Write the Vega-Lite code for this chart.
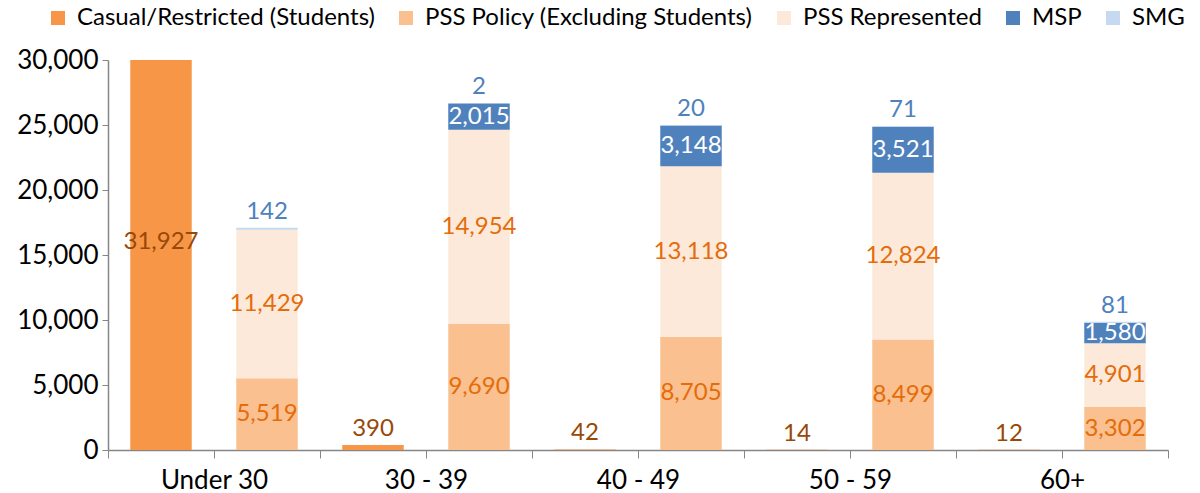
{
  "$schema": "https://vega.github.io/schema/vega-lite/v6.json",
  "width": 1060,
  "height": 390,
  "autosize": {"type": "none"},
  "padding": {"left": 108, "top": 60, "right": 32, "bottom": 43},
  "background": "white",
  "config": {
    "view": {"stroke": null},
    "font": "Lato",
    "axis": {"labelFont": "Lato", "labelFontSize": 26, "labelColor": "#000000", "domainColor": "#868686", "tickColor": "#868686", "grid": false, "title": null},
    "legend": {"labelFont": "Lato", "labelFontSize": 24, "labelColor": "#000000", "labelLimit": 0}
  },
  "data": {
    "values": [
      {"age": "Under 30", "group": "Students", "category": "Casual/Restricted (Students)", "value": 31927},
      {"age": "Under 30", "group": "Staff", "category": "PSS Policy (Excluding Students)", "value": 5519},
      {"age": "Under 30", "group": "Staff", "category": "PSS Represented", "value": 11429},
      {"age": "Under 30", "group": "Staff", "category": "SMG", "value": 142},
      {"age": "30 - 39", "group": "Students", "category": "Casual/Restricted (Students)", "value": 390},
      {"age": "30 - 39", "group": "Staff", "category": "PSS Policy (Excluding Students)", "value": 9690},
      {"age": "30 - 39", "group": "Staff", "category": "PSS Represented", "value": 14954},
      {"age": "30 - 39", "group": "Staff", "category": "MSP", "value": 2015},
      {"age": "30 - 39", "group": "Staff", "category": "SMG", "value": 2},
      {"age": "40 - 49", "group": "Students", "category": "Casual/Restricted (Students)", "value": 42},
      {"age": "40 - 49", "group": "Staff", "category": "PSS Policy (Excluding Students)", "value": 8705},
      {"age": "40 - 49", "group": "Staff", "category": "PSS Represented", "value": 13118},
      {"age": "40 - 49", "group": "Staff", "category": "MSP", "value": 3148},
      {"age": "40 - 49", "group": "Staff", "category": "SMG", "value": 20},
      {"age": "50 - 59", "group": "Students", "category": "Casual/Restricted (Students)", "value": 14},
      {"age": "50 - 59", "group": "Staff", "category": "PSS Policy (Excluding Students)", "value": 8499},
      {"age": "50 - 59", "group": "Staff", "category": "PSS Represented", "value": 12824},
      {"age": "50 - 59", "group": "Staff", "category": "MSP", "value": 3521},
      {"age": "50 - 59", "group": "Staff", "category": "SMG", "value": 71},
      {"age": "60+", "group": "Students", "category": "Casual/Restricted (Students)", "value": 12},
      {"age": "60+", "group": "Staff", "category": "PSS Policy (Excluding Students)", "value": 3302},
      {"age": "60+", "group": "Staff", "category": "PSS Represented", "value": 4901},
      {"age": "60+", "group": "Staff", "category": "MSP", "value": 1580},
      {"age": "60+", "group": "Staff", "category": "SMG", "value": 81}
    ]
  },
  "transform": [
    {"calculate": "indexof(['Casual/Restricted (Students)', 'PSS Policy (Excluding Students)', 'PSS Represented', 'MSP', 'SMG'], datum.category)", "as": "rank"}
  ],
  "encoding": {
    "x": {"field": "age", "type": "nominal", "sort": ["Under 30", "30 - 39", "40 - 49", "50 - 59", "60+"], "scale": {"paddingInner": 0, "paddingOuter": 0}},
    "xOffset": {"field": "group", "type": "nominal", "sort": ["Students", "Staff"], "scale": {"paddingInner": 0.42, "paddingOuter": 0.21}},
    "order": {"field": "rank", "type": "quantitative", "sort": "ascending"}
  },
  "layer": [
    {
      "mark": {"type": "bar", "clip": true},
      "encoding": {
        "x": {"field": "age", "type": "nominal", "sort": ["Under 30", "30 - 39", "40 - 49", "50 - 59", "60+"], "axis": {"orient": "bottom", "labelAngle": 0, "tickBand": "extent", "tickSize": 8, "labelPadding": 9, "domainWidth": 1.5}},
        "y": {"field": "value", "type": "quantitative", "stack": "zero", "scale": {"domain": [0, 30000], "nice": false}, "axis": {"values": [0, 5000, 10000, 15000, 20000, 25000, 30000], "format": ",.0f", "tickSize": 6, "labelPadding": 4, "domainWidth": 1.5}},
        "color": {
          "field": "category", "type": "nominal",
          "sort": ["Casual/Restricted (Students)", "PSS Policy (Excluding Students)", "PSS Represented", "MSP", "SMG"],
          "scale": {"domain": ["Casual/Restricted (Students)", "PSS Policy (Excluding Students)", "PSS Represented", "MSP", "SMG"], "range": ["#F79646", "#FAC090", "#FDE9D9", "#4F81BD", "#C6D9F1"]},
          "legend": {"orient": "none", "legendX": -62, "legendY": -54, "direction": "horizontal", "title": null, "symbolType": "square", "symbolSize": 196, "symbolStrokeWidth": 0, "labelOffset": 7, "columnPadding": 19}
        }
      }
    },
    {
      "mark": {"type": "text", "fontSize": 24, "font": "Lato", "baseline": "middle"},
      "encoding": {
        "x": {"field": "age", "type": "nominal", "sort": ["Under 30", "30 - 39", "40 - 49", "50 - 59", "60+"], "axis": {"orient": "bottom", "labels": false, "domain": false, "tickBand": "center", "tickSize": 8, "ticks": true}},
        "y": {"field": "value", "type": "quantitative", "stack": "zero", "bandPosition": 0.5},
        "text": {"field": "value", "type": "quantitative", "format": ","},
        "color": {
          "field": "category", "type": "nominal",
          "sort": ["Casual/Restricted (Students)", "PSS Policy (Excluding Students)", "PSS Represented", "MSP", "SMG"],
          "scale": {"domain": ["Casual/Restricted (Students)", "PSS Policy (Excluding Students)", "PSS Represented", "MSP", "SMG"], "range": ["#984807", "#E46C0A", "#E46C0A", "#FFFFFF", "#4F81BD"]},
          "legend": null
        },
        "opacity": {"condition": {"test": "datum.category !== 'SMG' && datum.value >= 1000", "value": 1}, "value": 0}
      }
    },
    {
      "mark": {"type": "text", "fontSize": 24, "font": "Lato", "baseline": "bottom", "dy": -4},
      "encoding": {
        "x": {"field": "age", "type": "nominal", "sort": ["Under 30", "30 - 39", "40 - 49", "50 - 59", "60+"], "axis": null},
        "y": {"field": "value", "type": "quantitative", "stack": "zero", "bandPosition": 1},
        "text": {"field": "value", "type": "quantitative", "format": ","},
        "color": {
          "field": "category", "type": "nominal",
          "sort": ["Casual/Restricted (Students)", "PSS Policy (Excluding Students)", "PSS Represented", "MSP", "SMG"],
          "scale": {"domain": ["Casual/Restricted (Students)", "PSS Policy (Excluding Students)", "PSS Represented", "MSP", "SMG"], "range": ["#984807", "#E46C0A", "#E46C0A", "#FFFFFF", "#4F81BD"]},
          "legend": null
        },
        "opacity": {"condition": {"test": "datum.category === 'SMG' || datum.value < 1000", "value": 1}, "value": 0}
      }
    }
  ],
  "resolve": {"scale": {"color": "independent"}, "axis": {"x": "independent"}}
}
